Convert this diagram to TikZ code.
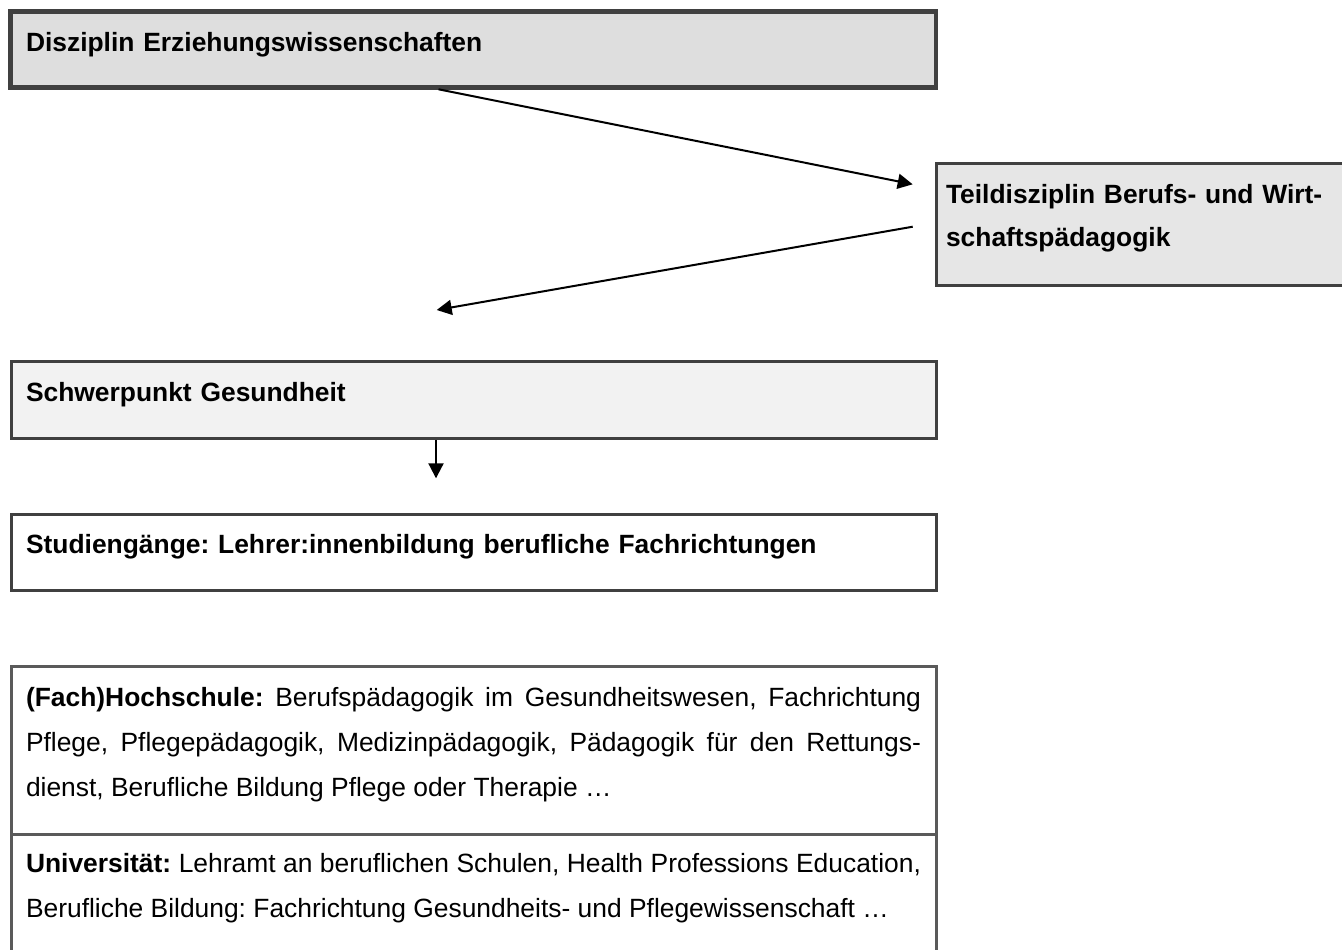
\documentclass[tikz,border=0pt]{standalone}
\usepackage{fontspec}
\setmainfont{Liberation Sans}
\usetikzlibrary{arrows.meta,calc}
\definecolor{rand}{HTML}{404040}
\definecolor{randhell}{HTML}{5A5A5A}
\definecolor{grauA}{HTML}{DEDEDE}
\definecolor{grauB}{HTML}{E6E6E6}
\definecolor{grauC}{HTML}{F2F2F2}
\hyphenpenalty=10000
\frenchspacing
\begin{document}
\begin{tikzpicture}[x=0.5pt,y=-0.5pt,
        kasten/.style={draw=rand, line width=1.5pt, anchor=north west, outer sep=0pt,
            inner ysep=0pt, inner xsep=7.5pt, text width=447.5pt, align=left,
            font=\fontsize{13.2}{22}\selectfont\bfseries},
        liste/.style={kasten, draw=randhell, align=justify,
            font=\fontsize{13.2}{22.5}\selectfont},
        pfeil/.style={-{Triangle[length=7.5pt,width=7.5pt]}, line width=1pt}]
            \useasboundingbox (0,0) rectangle (1342,949);
            \clip (0,0) rectangle (1342,949);

            \node[kasten, fill=grauA, line width=2.25pt, inner xsep=7.75pt, text width=447.25pt,
                text height=20.1pt, text depth=17.9pt] (diszi) at (10.5,11.5) {Disziplin Erziehungswissenschaften};
            \node[kasten, fill=grauB, inner xsep=4.75pt, text width=222.25pt,
                text height=19.6pt, text depth=41.1pt,
                font=\fontsize{13.2}{21.85}\selectfont\bfseries] (teil) at (936.5,163.8) {Teildisziplin Berufs- und Wirt-\\schaftspädagogik};
            \node[kasten, fill=grauC, text height=20.2pt, text depth=18.4pt] (schwer) at (11,361.3) {Schwerpunkt Gesundheit};
            \node[kasten, fill=white, text height=19.3pt, text depth=18.7pt] (studien) at (11,514.7) {Studiengänge: Lehrer:innenbildung berufliche Fachrichtungen};

            \node[liste, text height=20pt, text depth=63.65pt] (hoch) at (11,666.7) {\textbf{(Fach)Hochschule:} Berufspädagogik im Gesundheitswesen, Fachrichtung\linebreak Pflege, Pflegepädagogik, Medizinpädagogik, Pädagogik für den Rettungs-\linebreak dienst, Berufliche Bildung Pflege oder Therapie …};
            \node[liste, text height=19pt, text depth=64pt] (uni) at (11,834) {\textbf{Universität:} Lehramt an beruflichen Schulen, Health Professions Education,\linebreak Berufliche Bildung: Fachrichtung Gesundheits- und Pflegewissenschaft …};

            \draw[pfeil] ($(diszi.south west)+(428,1.8)$) -- ($(teil.west)+(-23.8,-40.2)$);
            \draw[pfeil] ($(teil.west)+(-23.8,2.2)$) -- ($(schwer.north west)+(425.7,-51.3)$);
            \draw[pfeil] ($(schwer.south west)+(425,1.5)$) -- ($(studien.north west)+(425,-36.4)$);
        \end{tikzpicture}
\end{document}
